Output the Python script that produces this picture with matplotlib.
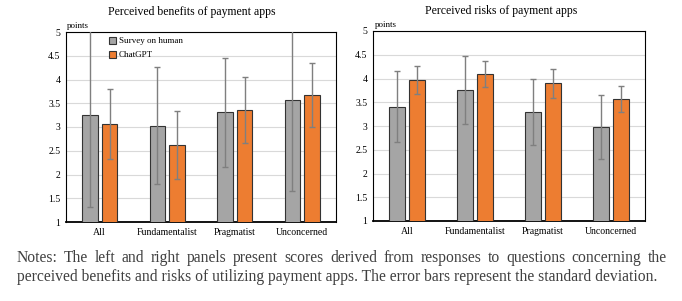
import numpy as np
import matplotlib
matplotlib.use('Agg')
import matplotlib.pyplot as plt

categories = ['All', 'Fundamentalist', 'Pragmatist', 'Unconcerned']

benefit_human = [3.25, 3.03, 3.31, 3.57]
benefit_human_sd = [1.93, 1.24, 1.15, 1.91]
benefit_gpt = [3.06, 2.62, 3.36, 3.67]
benefit_gpt_sd = [0.74, 0.72, 0.69, 0.67]

risk_human = [3.41, 3.76, 3.29, 2.98]
risk_human_sd = [0.75, 0.72, 0.69, 0.67]
risk_gpt = [3.97, 4.09, 3.90, 3.57]
risk_gpt_sd = [0.29, 0.27, 0.30, 0.27]

note1 = 'Notes: The left and right panels present scores derived from responses to questions concerning the'
note2 = 'perceived benefits and risks of utilizing payment apps. The error bars represent the standard deviation.'

plt.rcParams['font.family'] = ['Liberation Serif', 'DejaVu Serif']

W, H = 682, 301
fig = plt.figure(figsize=(W / 100, H / 100), dpi=100)

gray = '#A5A5A5'
orange = '#ED7D31'
err_kw = dict(ecolor='#7f7f7f', elinewidth=1.0, capsize=2.5, capthick=1.0)


def panel(rect, human, human_sd, gpt, gpt_sd):
    ax = fig.add_axes([rect[0] / W, 1 - rect[3] / H, (rect[2] - rect[0]) / W, (rect[3] - rect[1]) / H])
    x = np.arange(len(categories))
    w = 0.23
    ax.bar(x - 0.145, human, w, color=gray, edgecolor='#333333', linewidth=0.8,
           yerr=human_sd, error_kw=err_kw, label='Survey on human', zorder=3)
    ax.bar(x + 0.145, gpt, w, color=orange, edgecolor='#333333', linewidth=0.8,
           yerr=gpt_sd, error_kw=err_kw, label='ChatGPT', zorder=3)
    ax.set_ylim(1, 5)
    ax.set_xlim(-0.5, 3.5)
    ax.set_yticks(np.arange(1, 5.01, 0.5))
    ax.set_yticklabels(['1', '1.5', '2', '2.5', '3', '3.5', '4', '4.5', '5'])
    ax.set_xticks(x)
    ax.set_xticklabels(categories)
    ax.tick_params(length=0, labelsize=7, pad=4)
    ax.grid(axis='y', color='#d9d9d9', linewidth=0.8, zorder=0)
    for s in ax.spines.values():
        s.set_color('black')
        s.set_linewidth(0.8)
    ax.spines['bottom'].set_linewidth(1.3)
    return ax


ax1 = panel((66, 32, 336, 222), benefit_human, benefit_human_sd, benefit_gpt, benefit_gpt_sd)
ax2 = panel((373, 31, 645, 221), risk_human, risk_human_sd, risk_gpt, risk_gpt_sd)

fig.text(192 / W, 1 - 12 / H, 'Perceived benefits of payment apps', ha='center', va='center', fontsize=8.5)
fig.text(501 / W, 1 - 11 / H, 'Perceived risks of payment apps', ha='center', va='center', fontsize=8.5)
fig.text(67 / W, 1 - 26 / H, 'points', ha='left', va='center', fontsize=6.5)
fig.text(375 / W, 1 - 25 / H, 'points', ha='left', va='center', fontsize=6.5)

ax1.legend(loc='upper left', bbox_to_anchor=(105 / W, 1 - 33 / H), bbox_transform=fig.transFigure,
           frameon=False, fontsize=6.5, handlelength=0.8, handleheight=0.8, handletextpad=0.3,
           labelspacing=0.6, borderaxespad=0)

# notes: first line justified between x0 and x1, second line left aligned
note_fs = 11.25
note_col = '#404040'
x0, x1 = 17, 667
renderer = fig.canvas.get_renderer()


def text_width(s):
    t = fig.text(0, 0, s, fontsize=note_fs)
    w = t.get_window_extent(renderer).width
    t.remove()
    return w


words = note1.split(' ')
full = text_width(note1)
extra = (x1 - x0 - full) / (len(words) - 1)
wx = text_width('x')
for i, wd in enumerate(words):
    start = text_width(' '.join(words[:i]) + ' x') - wx if i else 0
    fig.text((x0 + start + extra * i) / W, 1 - 258 / H, wd, ha='left', va='center',
             fontsize=note_fs, color=note_col)
fig.text(x0 / W, 1 - 277 / H, note2, ha='left', va='center', fontsize=note_fs, color=note_col)

fig.savefig('out.png', dpi=100)
